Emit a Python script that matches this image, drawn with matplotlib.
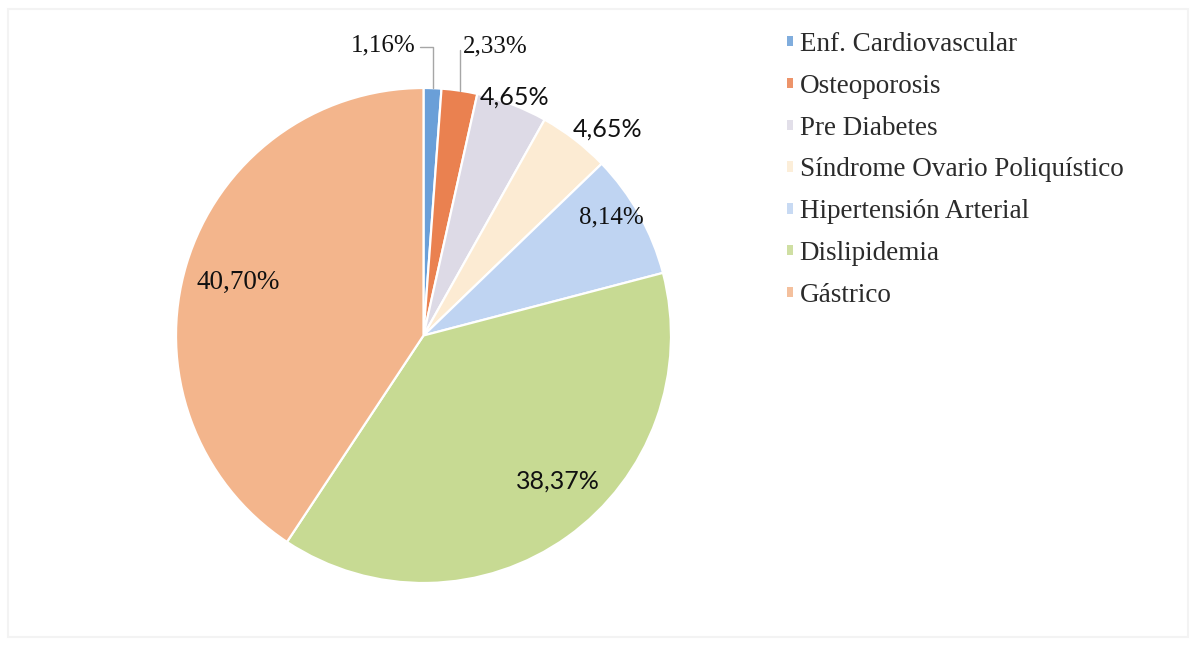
import numpy as np
import matplotlib
matplotlib.use("Agg")
import matplotlib.pyplot as plt
from matplotlib.patches import Rectangle

# Data
categories = [
    "Enf. Cardiovascular",
    "Osteoporosis",
    "Pre Diabetes",
    "Síndrome Ovario Poliquístico",
    "Hipertensión Arterial",
    "Dislipidemia",
    "Gástrico",
]
values = [1.16, 2.33, 4.65, 4.65, 8.14, 38.37, 40.70]

# Styling
colors = ["#6A9FD8", "#EA8150", "#DDDAE6", "#FCEBD3", "#BFD4F2", "#C7DA93", "#F3B58C"]
serif = ["Liberation Serif", "DejaVu Serif"]
sans = ["Lato", "DejaVu Sans"]
label_fonts = [serif, serif, sans, sans, serif, sans, serif]
label_sizes = [18, 18, 18, 18, 18, 18, 19.5]
# label placement: angular shift (deg, clockwise) and radius as a fraction of the pie radius
label_shift = [0, 0, 0, 4.0, -2.8, -7.2, -0.9]
label_rad = [None, None, 1.03, 1.117, 0.895, 0.80, 0.78]

W, H = 1196, 645
fig = plt.figure(figsize=(W / 100, H / 100), dpi=100)
ax = fig.add_axes([0, 0, 1, 1])

cx, cy, R = 423.5, H - 335.5, 247.5
wedges, _ = ax.pie(
    values, colors=colors, startangle=90, counterclock=False,
    center=(cx, cy), radius=R,
    wedgeprops=dict(edgecolor="white", linewidth=1.6),
)
ax.set_xlim(0, W)
ax.set_ylim(0, H)
ax.set_aspect("equal")
ax.axis("off")

def fmt(v):
    return f"{v:.2f}%".replace(".", ",")

for i, (w, v) in enumerate(zip(wedges, values)):
    mid = 0.5 * (w.theta1 + w.theta2)  # degrees, counter-clockwise from +x
    if label_rad[i] is None:
        # small slices: label above the pie with an elbow leader line
        a = np.deg2rad(mid)
        xy = (cx + R * np.cos(a), cy + R * np.sin(a))
        if i == 0:
            off, ha, rel = (-12.0, 31.0), "right", (1.0, 0.4)
        else:
            off, ha, rel = (2.5, 32.0), "left", (0.0, 0.4)
        ax.annotate(
            fmt(v), xy=xy, xytext=off, textcoords="offset points",
            ha=ha, va="center", fontsize=label_sizes[i],
            family=label_fonts[i], color="#111111",
            arrowprops=dict(arrowstyle="-", color="#A6A6A6", lw=1.0,
                            connectionstyle="angle,angleA=0,angleB=90,rad=0",
                            relpos=rel, shrinkA=1, shrinkB=0),
        )
    else:
        a = np.deg2rad(mid - label_shift[i])
        r = label_rad[i] * R
        ax.text(cx + r * np.cos(a), cy + r * np.sin(a), fmt(v),
                ha="center", va="center", fontsize=label_sizes[i],
                family=label_fonts[i], color="#111111")

leg = ax.legend(
    wedges, categories, loc="upper left",
    bbox_to_anchor=(787 / W, 1 - 32 / H), bbox_transform=fig.transFigure,
    frameon=False, borderpad=0, borderaxespad=0,
    handlelength=0.22, handleheight=0.22, handletextpad=0.25,
    labelspacing=0.62, prop=dict(family=serif, size=19.5),
)
for t in leg.get_texts():
    t.set_color("#2B2B2B")
for h in leg.legend_handles:
    h.set_edgecolor("none")
    h.set_alpha(0.85)

# faint outer frame
fig.patches.append(Rectangle((8 / W, 8 / H), 1180 / W, 628 / H,
                             transform=fig.transFigure, fill=False,
                             edgecolor="#F3F3F3", lw=1.5))

fig.savefig("out.png", dpi=100, facecolor="white")
